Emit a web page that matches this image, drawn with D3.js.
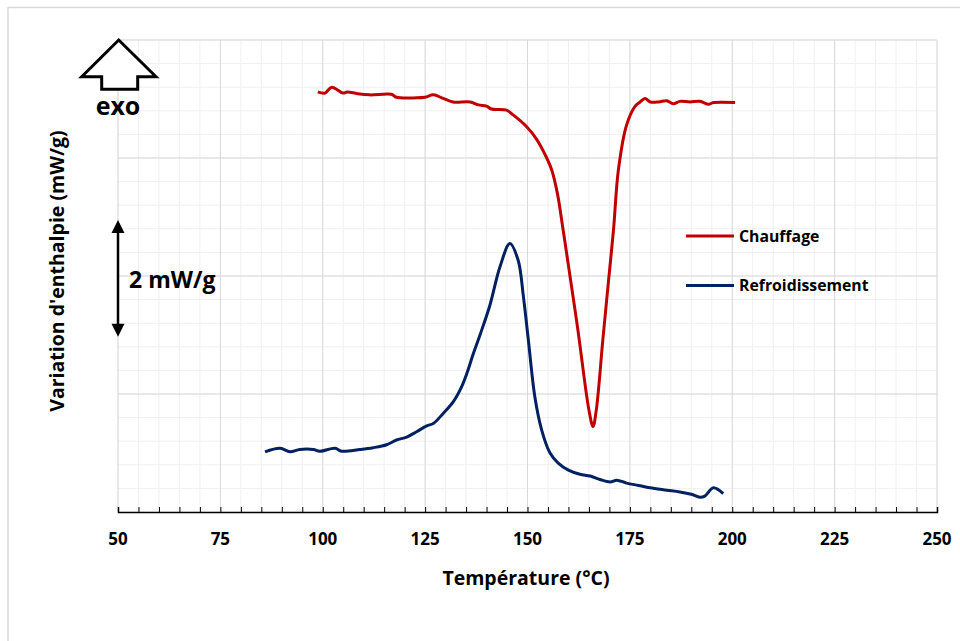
<!DOCTYPE html>
<html>
<head>
<meta charset="utf-8">
<script src="https://cdn.jsdelivr.net/npm/d3@7"></script>
<style>
  html, body { margin: 0; padding: 0; background: #fff; }
  svg { display: block; font-family: "Open Sans", Lato, sans-serif; font-weight: 700; }
</style>
</head>
<body>
<svg id="chart" width="960" height="641"></svg>
<script>
// DSC thermogram: heating and cooling curves of the polymer sample
const heatTemp = [98.8, 100.5, 102.2, 104.9, 106.0, 108.5, 111.5, 116.8, 118.0, 122.9, 125.0, 127.0, 129.4, 131.8, 136.0, 138.0, 140.0, 141.2, 144.9, 146.5, 149.8, 152.2, 154.7, 155.9, 157.3, 158.7, 159.8, 162.3, 165.0, 166.0, 166.8, 168.4, 169.8, 171.0, 172.2, 174.2, 176.3, 177.5, 178.7, 180.0, 182.0, 184.0, 185.6, 187.2, 189.7, 192.1, 194.2, 195.4, 200.7];
const heatFlow = [7.12, 7.10, 7.20, 7.10, 7.12, 7.09, 7.07, 7.08, 7.03, 7.02, 7.03, 7.07, 7.01, 6.95, 6.95, 6.90, 6.88, 6.83, 6.81, 6.73, 6.53, 6.32, 6.00, 5.80, 5.40, 4.78, 4.27, 3.09, 1.73, 1.45, 1.73, 2.92, 3.93, 4.78, 5.80, 6.56, 6.88, 6.95, 7.01, 6.95, 6.95, 6.97, 6.92, 6.96, 6.95, 6.96, 6.91, 6.94, 6.94];

const coolTemp = [85.9, 89.6, 92.0, 94.4, 97.7, 99.3, 103.0, 104.6, 109.1, 112.3, 115.6, 118.0, 120.5, 122.9, 125.4, 127.0, 129.4, 131.9, 133.9, 135.2, 136.8, 138.4, 140.8, 143.3, 145.7, 147.7, 149.0, 150.2, 151.8, 153.5, 155.5, 157.5, 160.0, 162.8, 165.3, 167.7, 170.2, 171.8, 174.2, 177.1, 179.9, 184.0, 187.2, 190.0, 192.1, 193.3, 195.4, 197.8];
const coolFlow = [1.02, 1.08, 1.02, 1.06, 1.06, 1.03, 1.08, 1.03, 1.06, 1.09, 1.14, 1.22, 1.27, 1.36, 1.46, 1.50, 1.67, 1.87, 2.12, 2.35, 2.69, 3.00, 3.50, 4.16, 4.55, 4.27, 3.65, 2.92, 1.95, 1.38, 1.00, 0.83, 0.71, 0.64, 0.61, 0.55, 0.51, 0.54, 0.49, 0.45, 0.41, 0.37, 0.34, 0.30, 0.25, 0.27, 0.41, 0.31];

const xTicks = [50, 75, 100, 125, 150, 175, 200, 225, 250];
const seriesNames = ["Chauffage", "Refroidissement"];
const seriesColors = ["#c00000", "#002060"];

const svg = d3.select("#chart");
const m = { left: 118, right: 937, top: 40, bottom: 512 };

const x = d3.scaleLinear().domain([50, 250]).range([m.left, m.right]);
const y = d3.scaleLinear().domain([0, 8]).range([m.bottom, m.top]);

// outer chart frame (top and left edges)
svg.append("path")
  .attr("d", `M8,641 V7.5 H960`)
  .attr("fill", "none").attr("stroke", "#d9d9d9").attr("stroke-width", 1.5);

// minor grid
const g = svg.append("g");
g.selectAll(".vminor").data(d3.range(50, 251, 5))
  .join("line")
  .attr("x1", d => x(d)).attr("x2", d => x(d))
  .attr("y1", m.top).attr("y2", m.bottom)
  .attr("stroke", "#f0f0f0").attr("stroke-width", 1);
g.selectAll(".hminor").data(d3.range(0, 8.01, 0.4))
  .join("line")
  .attr("x1", m.left).attr("x2", m.right)
  .attr("y1", d => y(d)).attr("y2", d => y(d))
  .attr("stroke", "#f0f0f0").attr("stroke-width", 1);
// major grid
g.selectAll(".vmajor").data(xTicks)
  .join("line")
  .attr("x1", d => x(d)).attr("x2", d => x(d))
  .attr("y1", m.top).attr("y2", m.bottom)
  .attr("stroke", "#d9d9d9").attr("stroke-width", 1);
g.selectAll(".hmajor").data([2, 4, 6, 8])
  .join("line")
  .attr("x1", m.left).attr("x2", m.right)
  .attr("y1", d => y(d)).attr("y2", d => y(d))
  .attr("stroke", "#d9d9d9").attr("stroke-width", 1);

// x axis with inward minor ticks
const xAxis = d3.axisBottom(x).tickValues(d3.range(50, 251, 5)).tickSize(-5).tickFormat("");
const ax = svg.append("g").attr("transform", `translate(0,${m.bottom})`).call(xAxis);
ax.select(".domain").attr("stroke", "#000").attr("stroke-width", 1.5);
ax.selectAll(".tick line").attr("stroke", "#000").attr("stroke-width", 1);

svg.append("g").selectAll("text").data(xTicks).join("text")
  .attr("x", d => x(d)).attr("y", 545)
  .attr("text-anchor", "middle")
  .attr("font-size", 17).attr("fill", "#000")
  .text(d => d);

// axis titles
svg.append("text")
  .attr("x", 526).attr("y", 585)
  .attr("text-anchor", "middle").attr("font-size", 19.5)
  .text("Température (°C)");
svg.append("text")
  .attr("transform", "translate(64,271) rotate(-90)")
  .attr("text-anchor", "middle").attr("font-size", 19.5)
  .text("Variation d'enthalpie (mW/g)");

// curves
const line = d3.line().x(d => x(d[0])).y(d => y(d[1])).curve(d3.curveCatmullRom.alpha(0.5));
const series = [
  d3.zip(heatTemp, heatFlow),
  d3.zip(coolTemp, coolFlow)
];
svg.append("g").selectAll("path").data(series).join("path")
  .attr("d", line)
  .attr("fill", "none")
  .attr("stroke", (d, i) => seriesColors[i])
  .attr("stroke-width", 3)
  .attr("stroke-linejoin", "round");

// legend
const leg = svg.append("g");
seriesNames.forEach((name, i) => {
  const ly = 236 + i * 49.5;
  leg.append("line").attr("x1", 686).attr("x2", 734).attr("y1", ly).attr("y2", ly)
    .attr("stroke", seriesColors[i]).attr("stroke-width", 3);
  leg.append("text").attr("x", 739).attr("y", ly + 5.5)
    .attr("font-size", 15.8).text(name);
});

// exo arrow
svg.append("path")
  .attr("d", "M118.7,40 L156,76.7 L137.7,76.7 L137.7,89.3 L101.7,89.3 L101.7,76.7 L81.7,76.7 Z")
  .attr("fill", "#fff").attr("stroke", "#000").attr("stroke-width", 3)
  .attr("stroke-linejoin", "miter");
svg.append("text").attr("x", 118).attr("y", 115)
  .attr("text-anchor", "middle").attr("font-size", 25).text("exo");

// 2 mW/g scale bar
const sb = svg.append("g");
const barTop = y(4.95), barBot = y(2.97);
sb.append("line").attr("x1", 118).attr("x2", 118).attr("y1", barTop + 8).attr("y2", barBot - 8)
  .attr("stroke", "#000").attr("stroke-width", 2.5);
sb.append("path").attr("d", `M118,${barTop} l-6.5,13 h13 Z`).attr("fill", "#000");
sb.append("path").attr("d", `M118,${barBot} l-6.5,-13 h13 Z`).attr("fill", "#000");
sb.append("text").attr("x", 129).attr("y", 288).attr("font-size", 23).text("2 mW/g");
</script>
</body>
</html>
